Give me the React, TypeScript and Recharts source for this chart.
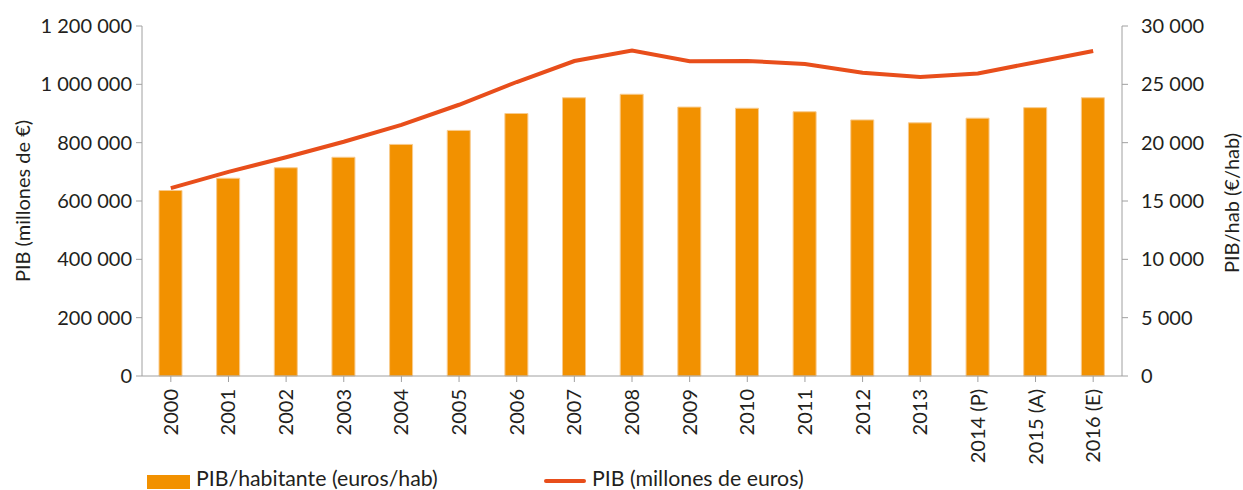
import React from 'react';
import { Bar, ComposedChart, Line, XAxis, YAxis } from 'recharts';

// Años (etiquetas del eje X)
const years = ['2000', '2001', '2002', '2003', '2004', '2005', '2006', '2007', '2008', '2009', '2010', '2011', '2012', '2013', '2014 (P)', '2015 (A)', '2016 (E)'];

// PIB por habitante (euros/hab) - barras, eje derecho
const pibHab = [15900, 16950, 17850, 18750, 19850, 21050, 22500, 23850, 24150, 23050, 22950, 22650, 21950, 21700, 22100, 23000, 23850];

// PIB (millones de euros) - línea, eje izquierdo
const pib = [644000, 700000, 750000, 803000, 861000, 930000, 1008000, 1080000, 1116000, 1079000, 1080000, 1070000, 1040000, 1025000, 1037000, 1076000, 1114000];

const leftTicks = [0, 200000, 400000, 600000, 800000, 1000000, 1200000];
const rightTicks = [0, 5000, 10000, 15000, 20000, 25000, 30000];

const data = years.map((year, i) => ({ year, pibHab: pibHab[i], pib: pib[i] }));

const BAR_COLOR = '#F29100';
const LINE_COLOR = '#E84E1B';
const TEXT = '#231F20';
const AXIS = '#A0A0A0';
const FONT = 'Lato, sans-serif';

// separador de miles con espacio
const fmt = (v: number) => String(v).replace(/\B(?=(\d{3})+(?!\d))/g, '\u00a0');

const XTick = (props: any) => {
    const { x, y, payload } = props;
    return (
        <text x={x} y={y + 5} transform={`rotate(-90, ${x}, ${y + 5})`} textAnchor="end" dy="0.35em" fill={TEXT} fontSize={20} fontFamily={FONT}>
            {payload.value}
        </text>
    );
};

export default function App() {
    return (
        <div style={{ position: 'absolute', top: 0, left: 0, width: 1243, height: 490, background: '#fff', fontFamily: FONT, overflow: 'hidden' }}>
            <ComposedChart width={1243} height={490} data={data} margin={{ top: 26, right: 0, bottom: 24, left: 0 }}>
                <XAxis dataKey="year" interval={0} height={90} tick={<XTick />} tickSize={6} axisLine={{ stroke: AXIS }} tickLine={{ stroke: AXIS }} />
                <YAxis
                    yAxisId="left"
                    width={142}
                    domain={[0, 1200000]}
                    ticks={leftTicks}
                    tickFormatter={fmt}
                    tickSize={6}
                    tickMargin={4}
                    axisLine={{ stroke: AXIS }}
                    tickLine={{ stroke: AXIS }}
                    tick={{ fill: TEXT, fontSize: 20, fontFamily: FONT }}
                    label={(p: any) => (
                        <text x={22} y={201} transform="rotate(-90, 22, 201)" textAnchor="middle" dominantBaseline="central" fill={TEXT} fontSize={20} fontFamily={FONT}>
                            PIB (millones de €)
                        </text>
                    )}
                />
                <YAxis
                    yAxisId="right"
                    orientation="right"
                    width={121}
                    domain={[0, 30000]}
                    ticks={rightTicks}
                    tickFormatter={fmt}
                    tickSize={6}
                    tickMargin={13}
                    axisLine={{ stroke: AXIS }}
                    tickLine={{ stroke: AXIS }}
                    tick={{ fill: TEXT, fontSize: 20, fontFamily: FONT }}
                    label={(p: any) => (
                        <text x={1231} y={203} transform="rotate(-90, 1231, 203)" textAnchor="middle" dominantBaseline="central" fill={TEXT} fontSize={20} fontFamily={FONT}>
                            PIB/hab (€/hab)
                        </text>
                    )}
                />
                <Bar yAxisId="right" dataKey="pibHab" fill={BAR_COLOR} stroke="#F8CB8E" strokeWidth={1} barSize={23} isAnimationActive={false} />
                <Line yAxisId="left" dataKey="pib" type="linear" stroke={LINE_COLOR} strokeWidth={4} dot={false} isAnimationActive={false} />
            </ComposedChart>

            {/* leyenda */}
            <div style={{ position: 'absolute', left: 147, top: 475, width: 43, height: 14, background: BAR_COLOR }} />
            <div style={{ position: 'absolute', left: 196, top: 466, fontSize: 21.3, color: TEXT, lineHeight: '24px', whiteSpace: 'nowrap' }}>PIB/habitante (euros/hab)</div>
            <div style={{ position: 'absolute', left: 544, top: 479, width: 42, height: 4, borderRadius: 2, background: LINE_COLOR }} />
            <div style={{ position: 'absolute', left: 592, top: 466, fontSize: 21.3, color: TEXT, lineHeight: '24px', whiteSpace: 'nowrap' }}>PIB (millones de euros)</div>
        </div>
    );
}
